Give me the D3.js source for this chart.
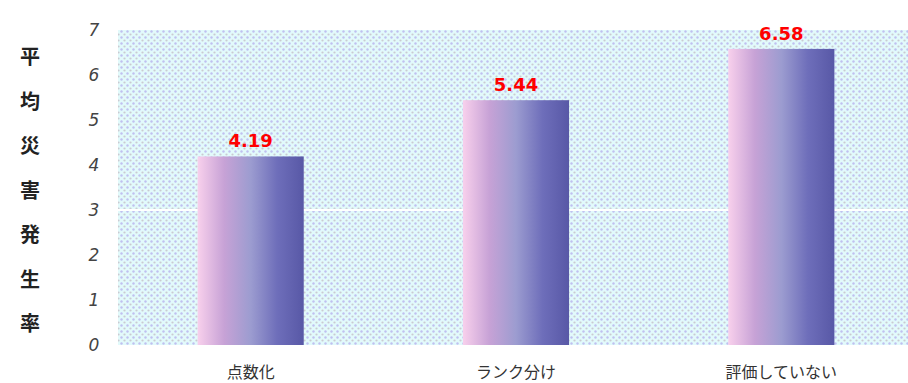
<!DOCTYPE html>
<html>
<head>
<meta charset="utf-8">
<script src="https://cdn.jsdelivr.net/npm/d3@7"></script>
<style>
  body { margin: 0; background: #ffffff; }
</style>
</head>
<body>
<div id="canvas"></div>
<script>
"use strict"

let categories = ["点数化", "ランク分け", "評価していない"];
let values = [4.19, 5.44, 6.58];
let valueLabels = ["4.19", "5.44", "6.58"];
let yTicks = [0, 1, 2, 3, 4, 5, 6, 7];
let yTitle = ["平", "均", "災", "害", "発", "生", "率"];

let drawingWidth = 908;
let drawingHeight = 383;
let plotLeft = 118, plotRight = 914, plotTop = 30, plotBottom = 345;

let drawing = d3.select("#canvas")
    .append("svg")
    .attr("width", drawingWidth)
    .attr("height", drawingHeight);

let defs = drawing.append("defs");

/* dotted background like the old dithered gif */
let pat = defs.append("pattern")
    .attr("id", "dots")
    .attr("width", 6)
    .attr("height", 6)
    .attr("patternUnits", "userSpaceOnUse");
pat.append("rect").attr("width", 6).attr("height", 6).attr("fill", "#e2fafb");
pat.append("circle").attr("cx", 1.5).attr("cy", 1.5).attr("r", 1.2).attr("fill", "#c0c0f0");
pat.append("circle").attr("cx", 4.5).attr("cy", 4.5).attr("r", 1.1).attr("fill", "#cacad2");

let grad = defs.append("linearGradient")
    .attr("id", "barGrad")
    .attr("x1", "0%").attr("x2", "100%")
    .attr("y1", "0%").attr("y2", "0%");
grad.append("stop").attr("offset", "0%").attr("stop-color", "#f8d0ec");
grad.append("stop").attr("offset", "25%").attr("stop-color", "#c7a2d6");
grad.append("stop").attr("offset", "50%").attr("stop-color", "#9c9cd0");
grad.append("stop").attr("offset", "75%").attr("stop-color", "#6e6eba");
grad.append("stop").attr("offset", "100%").attr("stop-color", "#5858a6");

let x = d3.scaleBand()
    .domain(categories)
    .range([plotLeft, plotRight])
    .paddingInner(0.6)
    .paddingOuter(0.3);

let y = d3.scaleLinear()
    .domain([0, 7])
    .range([plotBottom, plotTop]);

// plot background
drawing.append("rect")
    .attr("x", plotLeft)
    .attr("y", plotTop)
    .attr("width", drawingWidth - plotLeft)
    .attr("height", plotBottom - plotTop)
    .attr("fill", "url(#dots)");

// the white line across at 3
drawing.append("line")
    .attr("x1", plotLeft)
    .attr("x2", drawingWidth)
    .attr("y1", y(3))
    .attr("y2", y(3))
    .attr("stroke", "#ffffff")
    .attr("stroke-width", 2);

// y axis labels
let yAxis = drawing.append("g")
    .attr("transform", "translate(" + (plotLeft - 24) + ",0)")
    .call(d3.axisLeft(y).tickValues(yTicks).tickFormat(d3.format("d")).tickSize(0).tickPadding(0));
yAxis.select(".domain").remove();
yAxis.selectAll("text")
    .attr("text-anchor", "middle")
    .attr("font-family", "'DejaVu Sans', sans-serif")
    .attr("font-style", "italic")
    .attr("font-weight", "normal")
    .attr("font-size", 17)
    .attr("fill", "#444444");

// bars
drawing.selectAll(".bar")
    .data(values)
    .enter()
    .append("rect")
    .attr("class", "bar")
    .attr("x", (d, i) => x(categories[i]))
    .attr("y", d => y(d))
    .attr("width", x.bandwidth())
    .attr("height", d => y(0) - y(d))
    .attr("fill", "url(#barGrad)");

// value labels
drawing.selectAll(".val")
    .data(values)
    .enter()
    .append("text")
    .attr("class", "val")
    .attr("x", (d, i) => x(categories[i]) + x.bandwidth() / 2)
    .attr("y", d => y(d) - 9)
    .attr("text-anchor", "middle")
    .attr("font-family", "'DejaVu Sans', sans-serif")
    .attr("font-weight", "bold")
    .attr("font-size", 18)
    .attr("fill", "#ff0000")
    .text((d, i) => valueLabels[i]);

// x axis labels
let xAxis = drawing.append("g")
    .attr("transform", "translate(0," + (plotBottom + 22) + ")")
    .call(d3.axisBottom(x).tickSize(0).tickPadding(0));
xAxis.select(".domain").remove();
xAxis.selectAll("text")
    .attr("font-family", "'Noto Sans CJK JP', sans-serif")
    .attr("font-size", 16)
    .attr("fill", "#333333");

// vertical y title
drawing.selectAll(".ytitle")
    .data(yTitle)
    .enter()
    .append("text")
    .attr("class", "ytitle")
    .attr("x", 30)
    .attr("y", (d, i) => 64 + i * 44.5)
    .attr("text-anchor", "middle")
    .attr("font-family", "'Noto Sans CJK JP', sans-serif")
    .attr("font-weight", "bold")
    .attr("font-size", 20)
    .attr("fill", "#222222")
    .text(d => d);
</script>
</body>
</html>
